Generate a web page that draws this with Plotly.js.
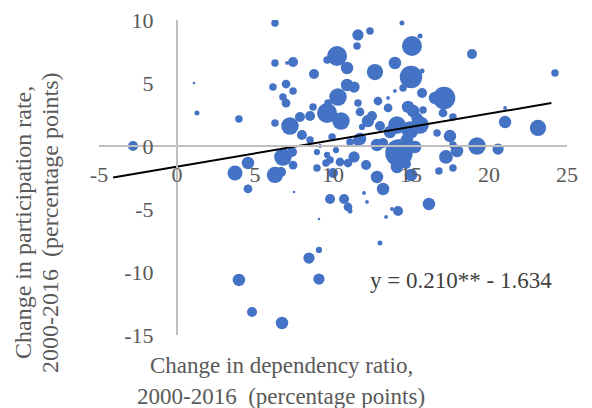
<!DOCTYPE html>
<html>
<head>
<meta charset="utf-8">
<script src="https://cdn.plot.ly/plotly-3.0.1.min.js"></script>
<style>html,body{margin:0;padding:0;background:#fff;}#chart{width:592px;height:408px;}</style>
</head>
<body>
<div id="chart"></div>
<script>
// Change in dependency ratio, 2000-2016 (percentage points)
const dependencyChange = [
 -2.82,1.09,1.28,3.97,3.72,4.55,4.55,3.97,4.81,6.73,
 6.28,6.28,7.44,7.05,6.15,6.99,7.44,6.79,6.99,6.28,
 7.24,7.88,8.53,8.01,8.53,6.79,7.37,7.44,6.28,6.67,
 7.50,8.46,9.10,9.10,9.10,8.78,10.26,9.62,10.90,10.90,
 11.35,10.32,9.62,10.51,9.68,8.72,9.94,9.17,8.97,9.62,
 9.81,9.55,10.19,10.45,10.96,11.35,11.09,11.60,8.97,10.00,
 9.81,10.71,10.96,11.09,11.60,12.37,11.54,14.42,15.58,15.06,
 13.97,12.69,15.00,15.71,18.91,24.23,11.60,12.88,13.53,13.97,
 14.49,15.71,17.12,16.54,11.73,13.53,14.81,15.13,15.77,12.50,
 12.24,15.38,17.05,17.69,21.03,21.03,23.14,13.01,14.10,14.94,
 15.58,11.86,13.65,11.73,12.82,13.21,14.74,15.26,16.67,17.50,
 19.23,20.58,17.69,17.95,17.24,17.69,16.79,14.23,12.12,14.10,
 14.68,15.00,12.82,13.21,11.99,12.18,13.40,13.78,14.17,16.15,
 13.01
];
// Change in participation rate, 2000-2016 (percentage points)
const participationChange = [
 0.00,5.00,2.62,2.14,-2.14,-1.35,-3.41,-10.63,-13.17,-14.05,
 9.76,6.59,6.67,6.59,4.68,4.92,4.37,3.89,3.41,1.83,
 1.59,2.30,2.38,0.87,0.48,-0.87,-0.48,-1.51,-2.30,-2.06,
 -3.65,-8.89,-8.25,-10.56,-5.79,5.71,7.14,6.83,6.19,4.84,
 4.68,3.89,2.62,1.98,3.41,3.10,0.71,0.00,-0.48,-0.71,
 -1.11,-1.35,-0.32,-1.27,-1.35,-0.87,0.32,0.40,-1.75,-2.14,
 -4.21,-4.21,-4.84,-5.16,8.81,9.13,7.94,9.76,8.73,7.94,
 6.59,5.87,5.48,5.95,7.30,5.79,3.41,3.57,3.81,4.37,
 4.60,4.21,3.81,3.81,2.70,3.02,3.10,2.78,2.86,2.38,
 1.98,2.22,2.62,2.30,3.02,1.90,1.43,1.59,1.67,1.27,
 1.67,1.51,1.11,0.56,0.08,0.24,0.48,-0.08,1.03,0.79,
 0.00,-0.24,0.08,-0.40,-0.87,-1.75,-1.98,-0.56,-1.51,-1.67,
 -1.43,-2.30,-2.46,-3.41,-3.73,-4.44,-5.63,-5.00,-5.16,-4.60,
 -7.70
];
// Bubble weight (relative country size)
const bubbleWeight = [
 8,2,4,6,12,10,7,10,8,10,
 6,6,8,3,6,7,6,6,7,6,
 14,8,8,8,6,14,8,7,13,8,
 2,9,5,9,2,8,16,6,10,10,
 9,14,16,14,6,6,6,3,5,5,
 6,6,5,7,7,9,6,8,6,8,
 8,8,7,4,9,6,6,4,4,16,
 10,13,18,4,8,6,6,7,3,3,
 6,8,18,10,7,7,10,10,6,8,
 10,9,7,6,3,10,13,8,14,14,
 14,5,10,10,10,8,10,10,6,10,
 14,9,6,10,11,6,6,22,8,10,
 8,10,10,10,3,3,3,3,8,10,
 4
];
// Fitted trend: y = 0.210x - 1.634
const trendX = [-4.1, 24.0];
const trendY = [-2.495, 3.406];
const xTicks = [-5, 0, 5, 10, 15, 20, 25];
const yTicks = [-15, -10, -5, 0, 5, 10];

const serif = "'Liberation Serif', 'Times New Roman', serif";
const gray = '#595959';

const traces = [
  {
    type: 'scatter', mode: 'markers',
    x: dependencyChange, y: participationChange,
    marker: {size: bubbleWeight, sizemode: 'diameter', sizeref: 0.8, color: '#4472C4', opacity: 1, line: {width: 0}},
    hoverinfo: 'x+y', showlegend: false
  },
  {
    type: 'scatter', mode: 'lines',
    x: trendX, y: trendY,
    line: {color: '#000000', width: 2},
    hoverinfo: 'skip', showlegend: false
  }
];

const layout = {
  width: 592, height: 408,
  margin: {l: 99, r: 25, t: 20, b: 73},
  paper_bgcolor: '#ffffff', plot_bgcolor: '#ffffff',
  font: {family: serif, size: 22, color: gray},
  showlegend: false,
  xaxis: {
    range: [-5, 25], tickvals: xTicks, ticktext: xTicks.map(String),
    anchor: 'free', position: 0.6,
    showline: true, linecolor: '#BFBFBF', linewidth: 2,
    showgrid: false, zeroline: false, ticks: '',
    ticklabelstandoff: 9,
    tickfont: {family: serif, size: 22, color: gray}
  },
  yaxis: {
    range: [-15, 10], tickvals: yTicks, ticktext: yTicks.map(String),
    anchor: 'free', position: 5/30,
    showline: true, linecolor: '#BFBFBF', linewidth: 2,
    showgrid: false, zeroline: false, ticks: '',
    ticklabelstandoff: 18,
    tickfont: {family: serif, size: 22, color: gray}
  },
  annotations: [
    {xref: 'paper', yref: 'paper', x: (281-99)/468, y: (335-365)/315, xanchor: 'center', yanchor: 'middle',
     text: 'Change in dependency ratio,', showarrow: false, font: {family: serif, size: 23, color: gray}},
    {xref: 'paper', yref: 'paper', x: (281-99)/468, y: (335-396)/315, xanchor: 'center', yanchor: 'middle',
     text: '2000-2016  (percentage points)', showarrow: false, font: {family: serif, size: 23, color: gray}},
    {xref: 'paper', yref: 'paper', x: (23-99)/468, y: (335-223)/315, xanchor: 'center', yanchor: 'middle', textangle: -90,
     text: 'Change in participation rate,', showarrow: false, font: {family: serif, size: 24, color: gray}},
    {xref: 'paper', yref: 'paper', x: (50-99)/468, y: (335-223)/315, xanchor: 'center', yanchor: 'middle', textangle: -90,
     text: '2000-2016  (percentage points)', showarrow: false, font: {family: serif, size: 24, color: gray}},
    {xref: 'paper', yref: 'paper', x: (461-99)/468, y: (335-280)/315, xanchor: 'center', yanchor: 'middle',
     text: 'y = 0.210** - 1.634', showarrow: false, font: {family: serif, size: 23, color: '#404040'}}
  ]
};

Plotly.newPlot('chart', traces, layout, {displayModeBar: false, staticPlot: true});
</script>
</body>
</html>
